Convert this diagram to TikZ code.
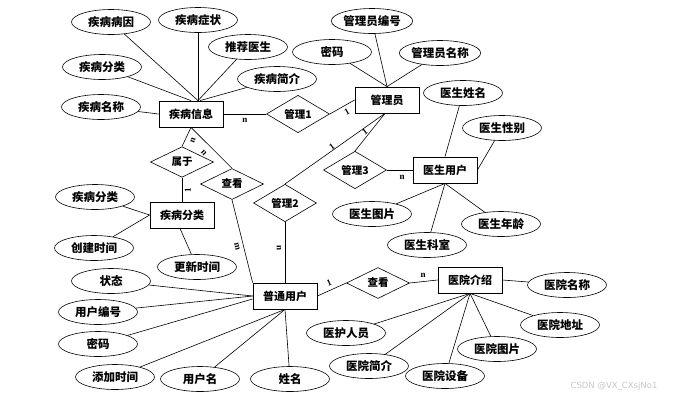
\documentclass[tikz,border=0pt]{standalone}
\usepackage{fontspec}
\usetikzlibrary{shapes.geometric}
\newfontfamily\cjk{Noto Sans CJK SC}
\newfontfamily\cardfont{Liberation Serif}
\newfontfamily\wmfont{DejaVu Sans}

\begin{document}
\begin{tikzpicture}[x=1pt, y=-1pt, line width=0.6pt,
  attr/.style={ellipse, draw, minimum width=79pt, minimum height=25pt, inner sep=0pt, font=\cjk\bfseries\fontsize{11.5}{13}\selectfont},
  ent/.style={rectangle, draw, line width=0.8pt, minimum width=64pt, minimum height=26pt, inner sep=0pt, font=\cjk\bfseries\fontsize{11}{13}\selectfont},
  rel/.style={diamond, draw, minimum width=63pt, minimum height=26pt, inner sep=0pt, font=\cjk\bfseries\fontsize{10.5}{12}\selectfont},
  card/.style={font=\cardfont\bfseries\fontsize{9}{10}\selectfont, inner sep=0pt}]
  \useasboundingbox (0,0) rectangle (680,400);

  % --- Entities ---
  \node[ent] (jbxx) at (191,114) {疾病信息};
  \node[ent] (gly)  at (387,100) {管理员};
  \node[ent] (ysyh) at (445,170) {医生用户};
  \node[ent] (jbfl) at (182,215) {疾病分类};
  \node[ent] (ptyh) at (285,296) {普通用户};
  \node[ent] (yyjs) at (470,280) {医院介绍};

  % --- Relations ---
  \node[rel] (gl1) at (298,114) {管理1};
  \node[rel] (sy)  at (182,162) {属于};
  \node[rel] (ck1) at (232,184) {查看};
  \node[rel] (gl2) at (285,203) {管理2};
  \node[rel] (gl3) at (355,170) {管理3};
  \node[rel] (ck2) at (378,283) {查看};

  % --- Attributes: name/x/y/text/target/shift ---
  \foreach \n/\x/\y/\t/\e/\dx/\dy in {
      bingyin/111/22/疾病病因/jbxx.north/7/0,
      zhengzhuang/198/20/疾病症状/jbxx.north/7/0,
      tuijian/248/47/推荐医生/jbxx.north/7/0,
      fenleiA/102/67/疾病分类/jbxx.north/0/0,
      jianjie/277/79/疾病简介/jbxx.north/9/0,
      mingcheng/101/107/疾病名称/jbxx.west/0/0,
      glybh/372/21/管理员编号/gly.north/0/0,
      mimaA/332/52/密码/gly.north/0/0,
      glymc/440/53/管理员名称/gly.north/0/0,
      xingming/463/93/医生姓名/ysyh.north/0/0,
      xingbie/502/128/医生性别/ysyh.east/0/0,
      tupian/372/214/医生图片/ysyh.south/0/0,
      nianling/501/224/医生年龄/ysyh.south/0/0,
      keshi/427/245/医生科室/ysyh.south/0/0,
      fenleiB/95/197/疾病分类/jbfl.west/0/0,
      chuangjian/94/248/创建时间/jbfl.west/0/0,
      gengxin/197/267/更新时间/jbfl.south/-2/0,
      zhuangtai/111/281/状态/ptyh.west/0/0,
      yhbh/98/312/用户编号/ptyh.west/0/0,
      mimaB/98/344/密码/ptyh.west/0/-3,
      tianjia/115/377/添加时间/ptyh.south/0/0,
      yhm/200/379/用户名/ptyh.south/0/0,
      xm/290/379/姓名/ptyh.south/0/0,
      yymc/567/285/医院名称/yyjs.east/0/0,
      yydz/560/325/医院地址/yyjs.south/0/0,
      yytp/497/349/医院图片/yyjs.south/0/0,
      huli/346/333/医护人员/yyjs.south/0/0,
      yyjj/369/366/医院简介/yyjs.south/0/0,
      shebei/445/376/医院设备/yyjs.south/0/0} {
    \node[attr] (\n) at (\x,\y) {\t};
    \draw (\n) -- ([xshift=\dx pt, yshift=\dy pt]\e);
  }

  % --- Relation lines ---
  \draw (jbxx.east) -- (gl1.west);
  \draw (gl1.east) -- (gly.west);
  \draw ([xshift=-2pt]gly.south) -- (gl3.north);
  \draw ([xshift=-2pt]gly.south) -- (gl2.north);
  \draw (gl3.east) -- (ysyh.west);
  \draw (jbxx.south) -- (sy.north);
  \draw (jbxx.south) -- (ck1.north);
  \draw (sy.south) -- (jbfl.north);
  \draw (ck1.south) -- (ptyh.north west);
  \draw (gl2.south) -- (ptyh.north);
  \draw (ptyh.east) -- (ck2.west);
  \draw (ck2.east) -- (yyjs.west);

  % --- Cardinalities ---
  \node[card] at (245,120) {n};
  \node[card, rotate=29] at (347,112) {1};
  \node[card, rotate=37] at (365,132) {1};
  \node[card, rotate=37] at (332,147) {1};
  \node[card] at (402,177) {n};
  \node[card, rotate=70] at (193,140) {n};
  \node[card, rotate=-47] at (204,153) {n};
  \node[card, rotate=90] at (188,190) {1};
  \node[card, rotate=-76] at (237,247) {m};
  \node[card, rotate=-90] at (279,248) {n};
  \node[card, rotate=22] at (329,283) {1};
  \node[card] at (423,275) {n};

  % watermark
  \node[font=\wmfont\fontsize{8.5}{10}\selectfont, text=gray!45, inner sep=0pt] (wm) at (614,386) {CSDN @VX\_CXsjNo1};
\end{tikzpicture}
\end{document}
